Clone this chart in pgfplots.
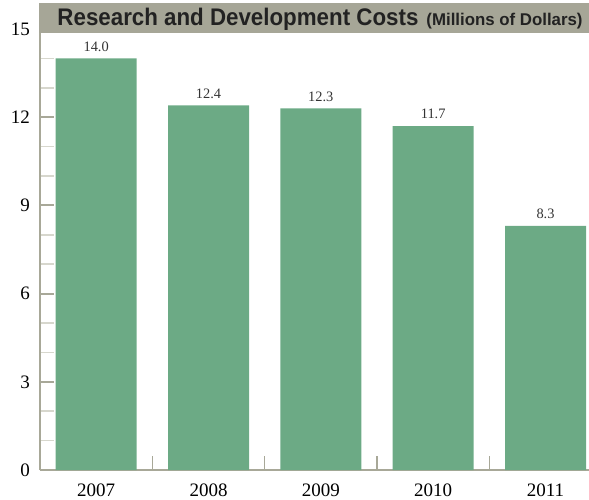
\documentclass[border=0pt]{standalone}
\usepackage{pgfplots}
\pgfplotsset{compat=1.18}
\usepackage{fontspec}
\setmainfont{Liberation Serif}
\newfontfamily\titlefont{Liberation Sans}
\definecolor{barc}{RGB}{108,170,133}
\definecolor{axc}{RGB}{168,168,152}
\definecolor{minc}{RGB}{215,215,205}
\definecolor{titlebg}{RGB}{166,166,151}
\definecolor{titletx}{RGB}{34,34,34}
\begin{document}
\begin{tikzpicture}
\begin{axis}[
  scale only axis,
  width=274.5pt, height=220.5pt,
  xmin=-0.5, xmax=4.387,
  ymin=0, ymax=15,
  axis lines=left,
  axis line style={axc, line width=1pt, -},
  ybar, bar width=40.5pt,
  xtick={0,1,2,3,4},
  xticklabels={2007,2008,2009,2010,2011},
  major x tick style={draw=none},
  minor xtick={0.5,1.5,2.5,3.5},
  minor x tick style={axc, line width=0.8pt},
  ytick={0,3,6,9,12,15},
  minor ytick={1,2,4,5,7,8,10,11,13,14},
  major y tick style={axc, line width=1pt},
  minor y tick style={minc, line width=0.8pt},
  tick align=inside,
  major tick length=7pt,
  minor tick length=7pt,
  x tick label style={font=\fontsize{9.5}{11}\selectfont, yshift=-3.5pt},
  y tick label style={font=\fontsize{9.5}{11}\selectfont, xshift=-1.5pt},
  /pgf/number format/assume math mode=true,
  nodes near coords,
  nodes near coords style={font=\fontsize{7.2}{8}\selectfont, text=black!80, yshift=0pt,
    /pgf/number format/.cd, fixed, fixed zerofill, precision=1, assume math mode=true},
  clip=false,
]
\addplot[fill=barc, draw=none] coordinates {(0,14.0) (1,12.4) (2,12.3) (3,11.7) (4,8.3)};
\end{axis}
\fill[titlebg] ([shift={(-0.5pt,-2pt)}]current axis.north west) rectangle ([shift={(0pt,13pt)}]current axis.north east);
\node[anchor=base east, text=titletx, inner sep=0pt] at ([shift={(-3pt,1.8pt)}]current axis.north east)
  {\titlefont\bfseries\scalebox{0.93}[1]{\fontsize{12}{14}\selectfont Research and Development Costs}\hspace{4pt}\scalebox{0.99}[1]{\fontsize{8.5}{10}\selectfont(Millions of Dollars)}};
\pgfresetboundingbox
\path ([shift={(-20pt,-14.5pt)}]current axis.south west) rectangle ([shift={(0pt,14.5pt)}]current axis.north east);
\end{tikzpicture}
\end{document}
